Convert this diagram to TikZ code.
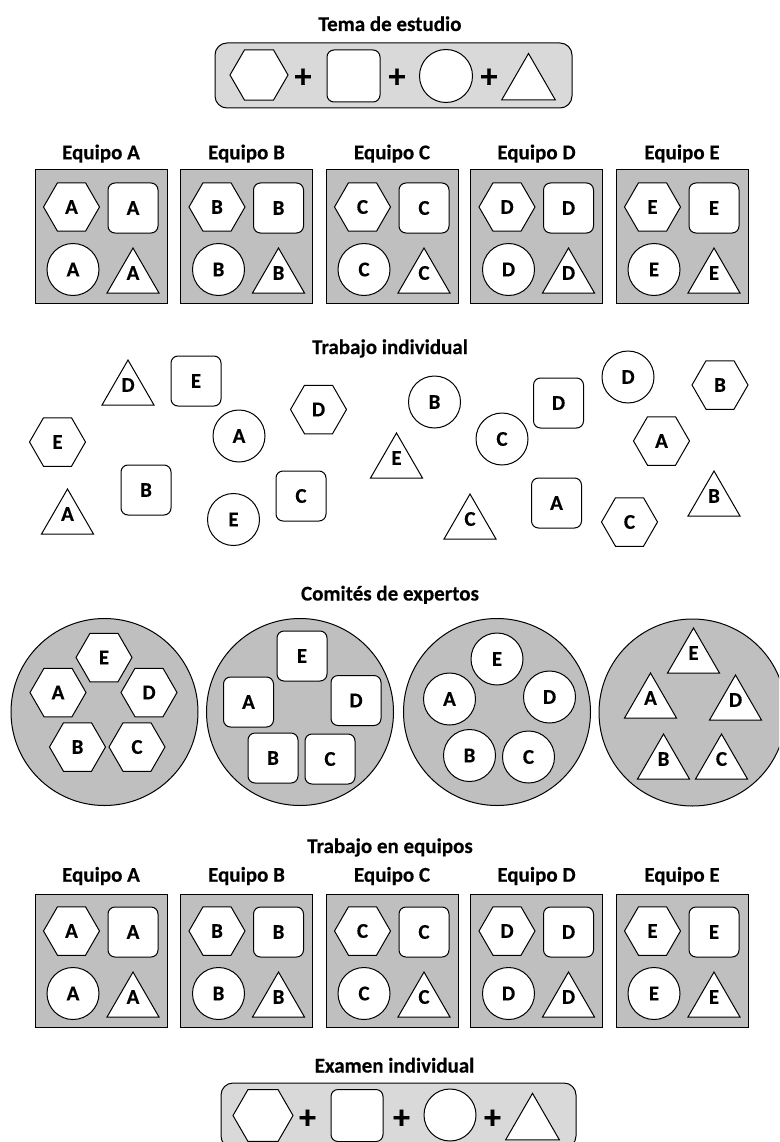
\documentclass[tikz,border=0pt]{standalone}
\usepackage{fontspec}
\setmainfont{Carlito}[BoldFeatures={FakeBold=0.4}]
\usetikzlibrary{shapes.geometric}
\tikzset{
  lab/.style={font=\fontsize{21}{24}\selectfont\bfseries},
  title/.style={lab, anchor=base, inner sep=0pt},
  plusf/.style={font=\fontsize{34}{36}\selectfont\bfseries, inner sep=0pt},
  piece/.style={draw=black, fill=white, line width=1pt, inner sep=0pt, lab},
  hexa/.style={piece, regular polygon, regular polygon sides=6, minimum size=56pt},
  sq/.style={piece, rectangle, rounded corners=7pt, minimum width=50pt, minimum height=50pt},
  circ/.style={piece, circle, minimum size=52pt},
  tri/.style={piece, regular polygon, regular polygon sides=3, minimum size=60pt,
              label={[lab, inner sep=0pt, yshift=5pt]center:#1}},
  tri/.default={},
  teambox/.style={draw=black, fill=gray!50, line width=1pt, rectangle, minimum width=132pt, minimum height=133pt, inner sep=0pt},
  sumbox/.style={draw=black, fill=gray!30, line width=1pt, rectangle, rounded corners=12pt, minimum width=357pt, minimum height=65pt, inner sep=0pt},
  combox/.style={draw=black, fill=gray!50, line width=1pt, circle, minimum size=187pt, inner sep=0pt}
}
\begin{document}
\begin{tikzpicture}[x=1pt,y=-1pt]
\clip (0,0) rectangle (779,1142);
\fill[white] (0,0) rectangle (779,1142);

% ---------- Tema de estudio ----------
\node[title] (t1) at (390,31) {Tema de estudio};
\node[sumbox] (top) at (393.5,75.5) {};
\node[hexa, minimum size=58pt] (th) at (259,75) {};
\node[plusf] (tp1) at (303,78) {+};
\node[sq, minimum width=53pt, minimum height=52pt] (ts) at (353.5,76) {};
\node[plusf] (tp2) at (397,78) {+};
\node[circ, minimum size=53pt] (tc) at (446,76) {};
\node[plusf] (tp3) at (489,78) {+};
\node[tri, minimum size=62pt] (tt) at (528.5,84.5) {};

% ---------- Equipos (fila 1) ----------
\foreach \t/\x in {A/101, B/246.5, C/392, D/536.5, E/682} {
  \node[title] (ea\t) at (\x,159.3) {Equipo \t};
  \node[teambox] (ba\t) at (\x,236.5) {};
  \node[hexa] (ha\t) at ({\x-29.5},207) {\t};
  \node[sq] (sa\t) at ({\x+32},208) {\t};
  \node[circ] (ca\t) at ({\x-28},269.5) {\t};
  \node[tri=\t] (ra\t) at ({\x+32},278) {};
}

% ---------- Trabajo individual ----------
\node[title] (t2) at (390,354) {Trabajo individual};
\node[tri=D] (iTD) at (128,390) {};
\node[tri=A] (iTA) at (67.5,519) {};
\node[tri=E] (iTE) at (396.5,463) {};
\node[tri=C] (iTC) at (470,524) {};
\node[tri=B] (iTB) at (714,501) {};
\node[sq] (iSE) at (196,381) {E};
\node[sq] (iSB) at (146,490) {B};
\node[sq] (iSC) at (301,496) {C};
\node[sq] (iSD) at (558.5,403) {D};
\node[sq] (iSA) at (556.5,503) {A};
\node[hexa] (iHD) at (318.5,409.5) {D};
\node[hexa] (iHE) at (57.5,442) {E};
\node[hexa] (iHB) at (720,385) {B};
\node[hexa] (iHA) at (661.5,441) {A};
\node[hexa] (iHC) at (629.5,522) {C};
\node[circ] (iCA) at (239,436) {A};
\node[circ] (iCE) at (233.5,519.5) {E};
\node[circ] (iCB) at (434.5,402) {B};
\node[circ] (iCC) at (502,439) {C};
\node[circ] (iCD) at (628,377) {D};

% ---------- Comites de expertos ----------
\node[title] (t3) at (390,600.5) {Comités de expertos};
\node[combox] (k1) at (104.5,712) {};
\node[combox] (k2) at (300,712) {};
\node[combox] (k3) at (497,712) {};
\node[combox] (k4) at (692.5,712.5) {};
\node[hexa] (kHE) at (104,657.5) {E};
\node[hexa] (kHA) at (58,692.5) {A};
\node[hexa] (kHD) at (149,692.5) {D};
\node[hexa] (kHB) at (77.5,747) {B};
\node[hexa] (kHC) at (137,747) {C};
\node[sq] (kSE) at (302,656) {E};
\node[sq] (kSA) at (248.5,702) {A};
\node[sq] (kSD) at (356,700.5) {D};
\node[sq] (kSB) at (273,758) {B};
\node[sq] (kSC) at (330,759) {C};
\node[circ] (kCE) at (497,659) {E};
\node[circ] (kCA) at (449.5,699) {A};
\node[circ] (kCD) at (549.5,697) {D};
\node[circ] (kCB) at (469.5,755.5) {B};
\node[circ] (kCC) at (528.5,757) {C};
\node[tri=E] (kTE) at (693.5,658) {};
\node[tri=A] (kTA) at (650.5,703) {};
\node[tri=D] (kTD) at (735.5,705) {};
\node[tri=B] (kTB) at (663.5,764) {};
\node[tri=C] (kTC) at (721.5,764) {};

% ---------- Trabajo en equipos ----------
\node[title] (t4) at (390,853) {Trabajo en equipos};
\foreach \t/\x in {A/101, B/246.5, C/392, D/536.5, E/682} {
  \node[title] (eb\t) at (\x,881.7) {Equipo \t};
  \node[teambox] (bb\t) at (\x,960.5) {};
  \node[hexa] (hb\t) at ({\x-29.5},931) {\t};
  \node[sq] (sb\t) at ({\x+32},932) {\t};
  \node[circ] (cb\t) at ({\x-28},993.5) {\t};
  \node[tri=\t] (rb\t) at ({\x+32},1002) {};
}

% ---------- Examen individual ----------
\node[title] (t5) at (394.5,1072.5) {Examen individual};
\node[sumbox, minimum width=355pt] (bot) at (398.5,1115.5) {};
\node[hexa, minimum size=60pt] (bh) at (263,1115.5) {};
\node[plusf] (bp1) at (307.5,1119) {+};
\node[sq, minimum width=52pt, minimum height=52pt] (bs) at (357,1115.5) {};
\node[plusf] (bp2) at (401.5,1119) {+};
\node[circ, minimum size=52pt] (bc) at (450,1115) {};
\node[plusf] (bp3) at (492.5,1119) {+};
\node[tri, minimum size=62pt] (bt) at (532.5,1124.3) {};
\end{tikzpicture}
\end{document}
